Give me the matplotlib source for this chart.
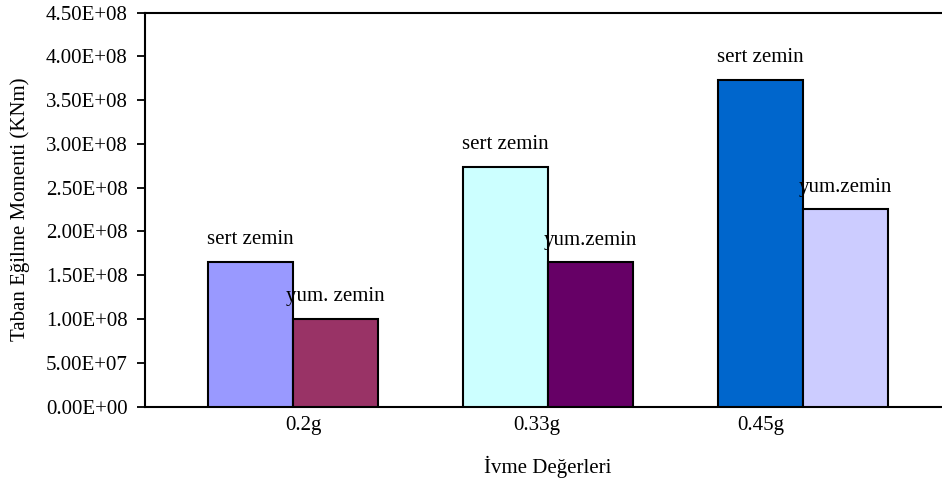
import matplotlib
matplotlib.use("Agg")
import matplotlib.pyplot as plt
from matplotlib.ticker import FuncFormatter, MultipleLocator
import numpy as np

plt.rcParams['font.family'] = ['Liberation Serif', 'DejaVu Serif']

# Data
categories = ["0.2g", "0.33g", "0.45g"]
sert_values = [1.655e8, 2.74e8, 3.73e8]
yum_values = [1.00e8, 1.65e8, 2.255e8]
sert_labels = ["sert zemin", "sert zemin", "sert zemin"]
yum_labels = ["yum. zemin", "yum.zemin", "yum.zemin"]

# Styling
sert_colors = ["#9999FF", "#CCFFFF", "#0066CC"]
yum_colors = ["#993366", "#660066", "#CCCCFF"]
bar_width = 0.335
tick_label_offset = [0.04, -0.043, -0.167]
fs = 15

fig = plt.figure(figsize=(9.42, 4.83), dpi=100)
ax = fig.add_axes([145 / 942, 76.5 / 483, 797 / 942, 394 / 483])

x = np.arange(len(categories))
ax.bar(x - bar_width / 2, sert_values, width=bar_width, color=sert_colors,
       edgecolor="black", linewidth=1.5, zorder=3)
ax.bar(x + bar_width / 2, yum_values, width=bar_width, color=yum_colors,
       edgecolor="black", linewidth=1.5, zorder=3)

for i in range(len(categories)):
    ax.annotate(sert_labels[i], (x[i] - bar_width / 2, sert_values[i]),
                xytext=(0, 12.6), textcoords="offset points",
                ha="center", va="baseline", fontsize=fs, zorder=4)
    ax.annotate(yum_labels[i], (x[i] + bar_width / 2, yum_values[i]),
                xytext=(0, 12.6), textcoords="offset points",
                ha="center", va="baseline", fontsize=fs, zorder=4)

ax.set_xlim(-0.5804, 2.545)
ax.set_ylim(0, 4.5e8)
ax.yaxis.set_major_locator(MultipleLocator(5e7))
ax.yaxis.set_major_formatter(FuncFormatter(lambda v, p: "{:.2E}".format(v)))

ax.set_xticks(x + np.array(tick_label_offset))
ax.set_xticklabels(categories)
ax.tick_params(axis="x", length=0, pad=7, labelsize=fs)
ax.tick_params(axis="y", direction="out", length=5.5, width=1.3, pad=7, labelsize=fs)

for side in ("left", "bottom", "top"):
    ax.spines[side].set_linewidth(1.5)
ax.spines["right"].set_visible(False)

fig.text(20 / 942, 0.5 + (483 / 2 - 209.5) / 483, "Taban Eğilme Momenti (KNm)",
         rotation=90, ha="center", va="center", fontsize=fs)
fig.text(548 / 942, 1 - 467 / 483, "İvme Değerleri",
         ha="center", va="center", fontsize=fs)

fig.savefig("out.png", dpi=100)
